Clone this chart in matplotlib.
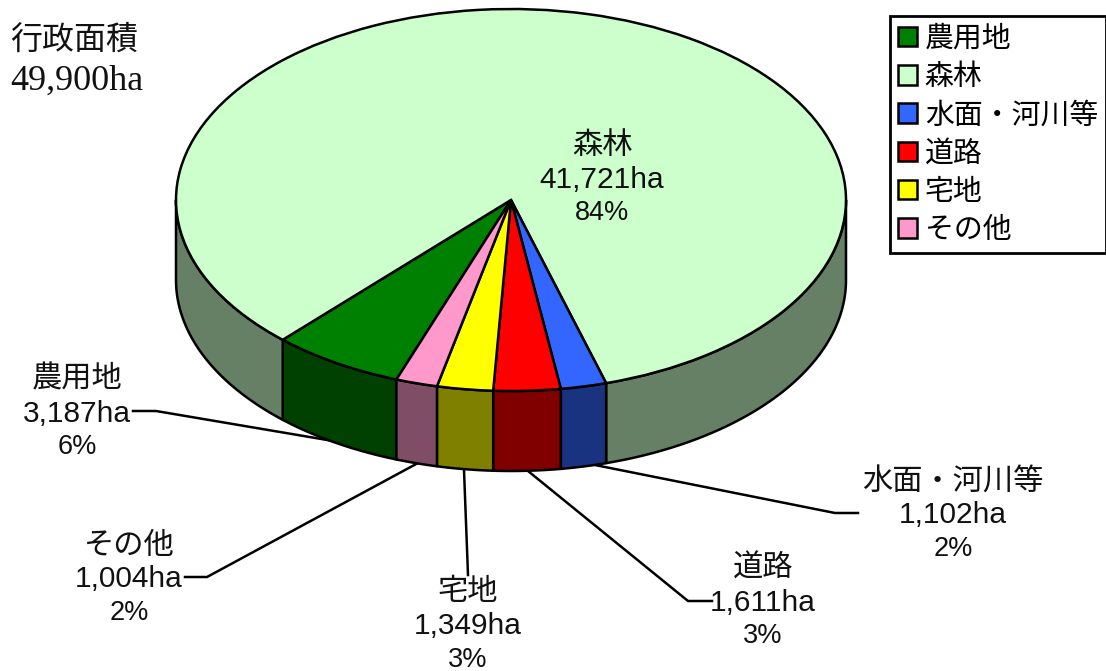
"""Land use breakdown as an extruded pie chart."""

import matplotlib

matplotlib.use("Agg")
import matplotlib.pyplot as plt
import numpy as np
from matplotlib.colors import to_rgb
from matplotlib.transforms import Affine2D

WIDTH, HEIGHT = 1106, 671

CATEGORIES = ["農用地", "森林", "水面・河川等", "道路", "宅地", "その他"]
AREAS_HA = [3187, 41721, 1102, 1611, 1349, 1004]
PERCENTS = [6, 84, 2, 3, 3, 2]
COLORS = ["#008000", "#CCFFCC", "#3366FF", "#FF0000", "#FFFF00", "#FF99CC"]
TITLE_LINES = ["行政面積", "49,900ha"]

# pie geometry in pixels
CENTER = (511, 200)
RX, RY = 335, 191
DEPTH = 80
START_ANGLE = 250

# label centre x and the y of each text line, leader polyline in pixels
LABEL_POS = [
    (77, (379, 414, 447)),
    (602, (145, 180, 213)),
    (953, (481, 515, 549)),
    (763, (568, 603, 636)),
    (468, (592, 626, 660)),
    (129, (545, 579, 613)),
]
LEADERS = [
    [(133, 411), (156, 411), (345, 443)],
    None,
    [(858, 513), (835, 513), (590, 464)],
    [(712, 601), (688, 601), (528, 471)],
    [(468, 575), (464, 470)],
    [(185, 577), (207, 577), (418, 463)],
]

JP_FONT = ["Noto Sans CJK JP", "DejaVu Sans"]
NUM_FONT = ["Liberation Sans", "DejaVu Sans"]


def side_ranges(theta1, theta2):
    # parts of a wedge that sit on the front half of the ellipse
    ranges = []
    for low in (-180, 180):
        a, b = max(theta1, low), min(theta2, low + 180)
        if a < b:
            ranges.append((a, b))
    return ranges


def main():
    fig = plt.figure(figsize=(WIDTH / 100, HEIGHT / 100), dpi=100)
    ax = fig.add_axes([0, 0, 1, 1])
    px = Affine2D().scale(1, -1).translate(0, HEIGHT)

    wedges, _ = ax.pie(
        AREAS_HA,
        colors=COLORS,
        startangle=START_ANGLE,
        counterclock=False,
        radius=1,
        wedgeprops={"edgecolor": "black", "linewidth": 1.8, "zorder": 4},
    )
    ax.set_aspect("auto")
    ax.set_xlim(-CENTER[0] / RX, (WIDTH - CENTER[0]) / RX)
    ax.set_ylim((CENTER[1] - HEIGHT) / RY, CENTER[1] / RY)
    ax.axis("off")

    # extruded wall below the top face, half the brightness of the slice
    drop = DEPTH / RY
    for wedge, color in zip(wedges, COLORS):
        dark = tuple(c / 2 for c in to_rgb(color))
        for a, b in side_ranges(wedge.theta1, wedge.theta2):
            t = np.radians(np.linspace(a, b, 120))
            xs = np.r_[np.cos(t), np.cos(t)[::-1]]
            ys = np.r_[np.sin(t), np.sin(t)[::-1] - drop]
            ax.fill(xs, ys, facecolor=dark, edgecolor="black", linewidth=1.8,
                    joinstyle="round", zorder=3)

    for points in LEADERS:
        if points is None:
            continue
        xs, ys = zip(*points)
        ax.plot(xs, ys, color="black", linewidth=1.8, transform=px, zorder=2)

    for name, area, pct, (x, rows) in zip(CATEGORIES, AREAS_HA, PERCENTS, LABEL_POS):
        ax.text(x, rows[0], name, transform=px, family=JP_FONT, fontsize=21.8,
                color="#111111", ha="center", va="center", zorder=6)
        ax.text(x, rows[1], f"{area:,}ha", transform=px, family=NUM_FONT, fontsize=21.5,
                color="#111111", ha="center", va="center", zorder=6)
        ax.text(x, rows[2], f"{pct}%", transform=px, family=NUM_FONT, fontsize=19.5,
                color="#111111", ha="center", va="center", zorder=6)

    ax.text(10, 40, TITLE_LINES[0], transform=px, family=JP_FONT, fontsize=23,
            color="#111111", ha="left", va="center")
    ax.text(10, 81, TITLE_LINES[1], transform=px, family=["Liberation Serif"], fontsize=26,
            color="#111111", ha="left", va="center")

    legend = ax.legend(
        wedges,
        CATEGORIES,
        loc="upper left",
        bbox_to_anchor=(890, 16),
        bbox_transform=px,
        prop={"family": JP_FONT, "size": 20.8},
        frameon=True,
        fancybox=False,
        framealpha=1,
        edgecolor="black",
        handlelength=0.66,
        handleheight=0.66,
        handletextpad=0.27,
        labelspacing=0.285,
        borderpad=0.27,
        borderaxespad=0,
    )
    legend.get_frame().set_linewidth(2)
    legend.set_zorder(7)

    fig.savefig("out.png", dpi=100)
    plt.close(fig)


if __name__ == "__main__":
    main()
